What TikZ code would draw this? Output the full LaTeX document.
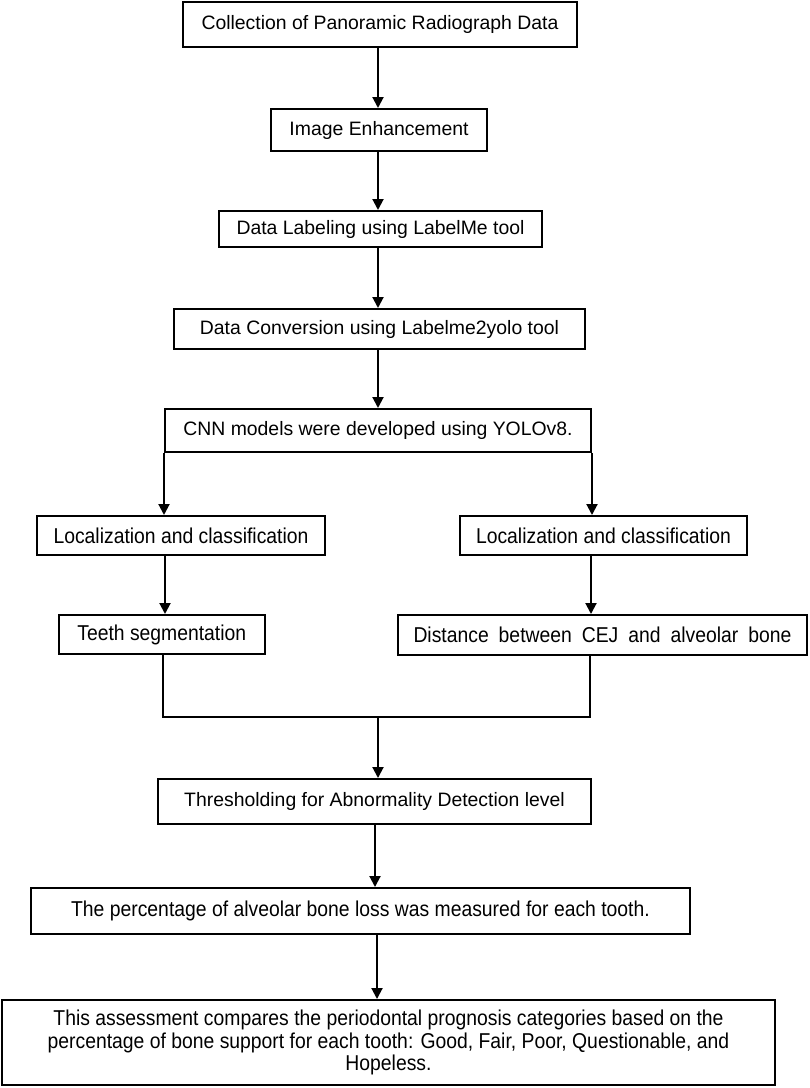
\documentclass[tikz,border=0pt]{standalone}
\usepackage{fontspec}
\setmainfont{Liberation Sans}
\newfontfamily\narrowfont[FakeStretch=0.9]{Liberation Sans}
\usetikzlibrary{arrows.meta}
\begin{document}
\begin{tikzpicture}[x=1pt,y=-1pt,
  box/.style={draw, line width=2pt, inner sep=0pt, fill=white},
  reg/.style={font=\fontsize{19.4}{23}\selectfont},
  nar/.style={font=\narrowfont\fontsize{21.5}{22.5}\selectfont},
  arr/.style={line width=2pt, -{Triangle[width=11pt,length=11pt]}},
  ln/.style={line width=2pt}]
\useasboundingbox[fill=white] (0,0) rectangle (810,1088);

\node[box,reg,minimum width=394pt,minimum height=45pt] (b1) at (380,24.5) {Collection of Panoramic Radiograph Data\hspace{3pt}};
\node[box,reg,minimum width=216pt,minimum height=42pt] (b2) at (379,130) {Image Enhancement\hspace{12pt}};
\node[box,reg,minimum width=323pt,minimum height=36pt] (b3) at (380.5,229) {Data Labeling using LabelMe tool\hspace{7pt}};
\node[box,reg,minimum width=411pt,minimum height=40pt] (b4) at (379.5,329) {Data Conversion using Labelme2yolo tool\hspace{24pt}};
\node[box,reg,minimum width=426pt,minimum height=43pt] (b5) at (378,430.5) {CNN models were developed using YOLOv8.\hspace{9pt}};

\node[box,nar,minimum width=288pt,minimum height=39pt] (l1) at (181,535.5) {Localization and classification};
\node[box,nar,minimum width=287pt,minimum height=39pt] (l2) at (603.5,535.5) {Localization and classification};
\node[box,nar,minimum width=205.5pt,minimum height=39pt] (t1) at (161.75,634.5) {Teeth segmentation\hspace{2pt}};
\node[box,nar,minimum width=409pt,minimum height=40pt] (d1) at (602.5,635) {\makebox[378pt][s]{Distance between CEJ and alveolar bone}\hspace{3pt}};

\node[box,reg,minimum width=433pt,minimum height=45pt] (th) at (374.5,801.5) {Thresholding for Abnormality Detection level\hspace{24pt}};
\node[box,nar,minimum width=659pt,minimum height=46pt] (pc) at (360.5,911) {The percentage of alveolar bone loss was measured for each tooth.\hspace{3pt}};
\node[box,nar,minimum width=773pt,minimum height=85pt,align=center] (la) at (388.5,1042.5) {This assessment compares the periodontal prognosis categories based on the\\percentage of bone support for each tooth: Good, Fair, Poor, Questionable, and\\Hopeless.};

\coordinate (ax) at (378,0);
\coordinate (lx) at (165,0);
\coordinate (rx) at (591,0);
\coordinate (jl) at (163,717);
\coordinate (jr) at (590,717);
\coordinate (jm) at (378,717);
\coordinate (tx) at (375,0);
\coordinate (px) at (377,0);

\draw[arr] (b1.south -| ax) -- (b2.north -| ax);
\draw[arr] (b2.south -| ax) -- (b3.north -| ax);
\draw[arr] (b3.south -| ax) -- (b4.north -| ax);
\draw[arr] (b4.south -| ax) -- (b5.north -| ax);
\draw[arr] (b5.south west) -- (b5.south west |- l1.north);
\draw[arr] (b5.south east) -- (b5.south east |- l2.north);
\draw[arr] (l1.south -| lx) -- (t1.north -| lx);
\draw[arr] (l2.south -| rx) -- (d1.north -| rx);
\draw[ln] (t1.south -| jl) -- (jl) -- (jr) -- (d1.south -| jr);
\draw[arr] (jm) -- (th.north -| jm);
\draw[arr] (th.south -| tx) -- (pc.north -| tx);
\draw[arr] (pc.south -| px) -- (la.north -| px);
\end{tikzpicture}
\end{document}
